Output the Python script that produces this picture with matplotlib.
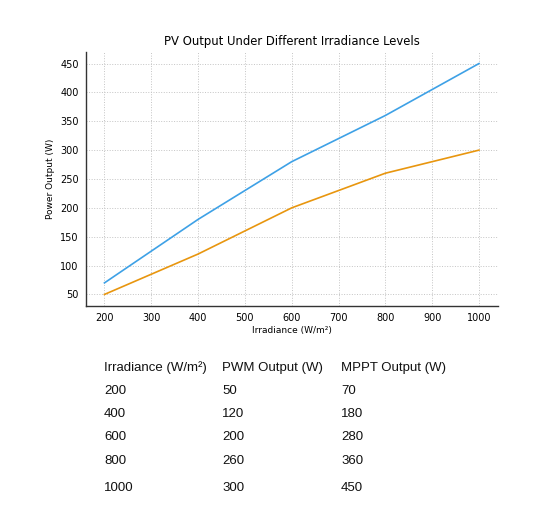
import matplotlib
matplotlib.use("Agg")
import matplotlib.pyplot as plt

irradiance = [200, 400, 600, 800, 1000]
pwm_output = [50, 120, 200, 260, 300]
mppt_output = [70, 180, 280, 360, 450]

col_labels = ["Irradiance (W/m²)", "PWM Output (W)", "MPPT Output (W)"]


def main():
        fig = plt.figure(figsize=(5.53, 5.21), dpi=100)
        ax = fig.add_axes([0.155, 0.4127, 0.745, 0.4875])

        ax.plot(irradiance, mppt_output, color="#3ea1e6", lw=1.2)
        ax.plot(irradiance, pwm_output, color="#e8960f", lw=1.2)

        ax.set_title("PV Output Under Different Irradiance Levels", fontsize=8.4, pad=5)
        ax.set_xlabel("Irradiance (W/m²)", fontsize=6.5, labelpad=2)
        ax.set_ylabel("Power Output (W)", fontsize=6.5, labelpad=4)
        ax.set_xticks(range(200, 1001, 100))
        ax.set_yticks(range(50, 451, 50))
        ax.tick_params(labelsize=7, length=0, pad=5)
        ax.grid(True, linestyle=":", color="#c4c4c4", lw=0.7)
        for s in ["top", "right"]:
                ax.spines[s].set_visible(False)
        for s in ["left", "bottom"]:
                ax.spines[s].set_linewidth(1.0)
                ax.spines[s].set_color("#333333")

        # table text below the chart
        col_x = [104, 222, 341]
        row_y = [368, 391, 414, 437, 461, 488]
        rows = [col_labels] + [[str(a), str(b), str(c)] for a, b, c in zip(irradiance, pwm_output, mppt_output)]
        for r, row in enumerate(rows):
                for c, txt in enumerate(row):
                        fig.text(col_x[c] / 553, 1 - row_y[r] / 521, txt, fontsize=9.5,
                                 family="Liberation Sans", va="center", ha="left", color="#111111")

        fig.savefig("out.png", dpi=100)


if __name__ == "__main__":
        main()
